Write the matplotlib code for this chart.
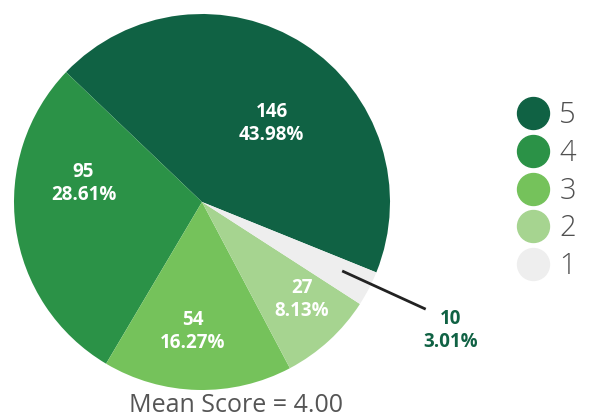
import matplotlib
matplotlib.use("Agg")
import matplotlib.pyplot as plt
from matplotlib.lines import Line2D
import numpy as np

scores = ["5", "4", "3", "2", "1"]
counts = [146, 95, 54, 27, 10]
colors = ["#106244", "#2b9247", "#75c25b", "#a6d490", "#eeeeee"]
mean_score = 4.00

plt.rcParams['font.family'] = ['Open Sans', 'DejaVu Sans']

W, H = 590, 419
fig = plt.figure(figsize=(W / 100, H / 100), dpi=100)

# pie area: center (202, 202) px, radius 188 px
cx, cy, r = 202, 202, 188
ax = fig.add_axes([(cx - r) / W, (H - cy - r) / H, 2 * r / W, 2 * r / H])

total = sum(counts)
wedges, _ = ax.pie(counts, colors=colors, startangle=-22, counterclock=True,
                   radius=1, wedgeprops=dict(linewidth=0))
ax.set_xlim(-1, 1)
ax.set_ylim(-1, 1)
ax.set_aspect("equal")

# where the labels sit inside the pie (unit radius), last one goes outside
label_xy = [(0.37, 0.42), (-0.63, 0.10), (-0.05, -0.69), (0.53, -0.52),
            (1.32, -0.685)]

for i, w in enumerate(wedges):
    pct = counts[i] / total * 100
    txt = "%d\n%.2f%%" % (counts[i], pct)
    x, y = label_xy[i]
    if counts[i] / total < 0.05:
        # small slice: label outside with a leader line
        ang = np.deg2rad((w.theta1 + w.theta2) / 2)
        x0, y0 = 0.84 * np.cos(ang), 0.84 * np.sin(ang)
        ax.plot([x0, 1.19], [y0 + 0.02, -0.57], color="#222222", lw=2,
                solid_capstyle="butt", clip_on=False)
        ax.text(x, y, txt, ha="center", va="center", color="#106244",
                fontsize=13.5, fontweight="bold", linespacing=1.2)
    else:
        ax.text(x, y, txt, ha="center", va="center", color="white",
                fontsize=13.5, fontweight="bold", linespacing=1.2)

handles = [Line2D([], [], marker="o", ls="", markersize=23,
                  markerfacecolor=c, markeredgecolor=c) for c in colors]
leg = fig.legend(handles, scores, loc="center left",
                 bbox_to_anchor=(501 / W, 1 - 191 / H), frameon=False,
                 fontsize=21, labelspacing=0.28, handletextpad=0.3,
                 borderpad=0, handlelength=1.2)
for t in leg.get_texts():
    t.set_color("#505050")
    t.set_fontweight("light")

fig.text(236 / W, 1 - 405 / H, "Mean Score = %.2f" % mean_score,
         ha="center", va="center", fontsize=18, color="#555555")

fig.savefig("out.png", dpi=100)
